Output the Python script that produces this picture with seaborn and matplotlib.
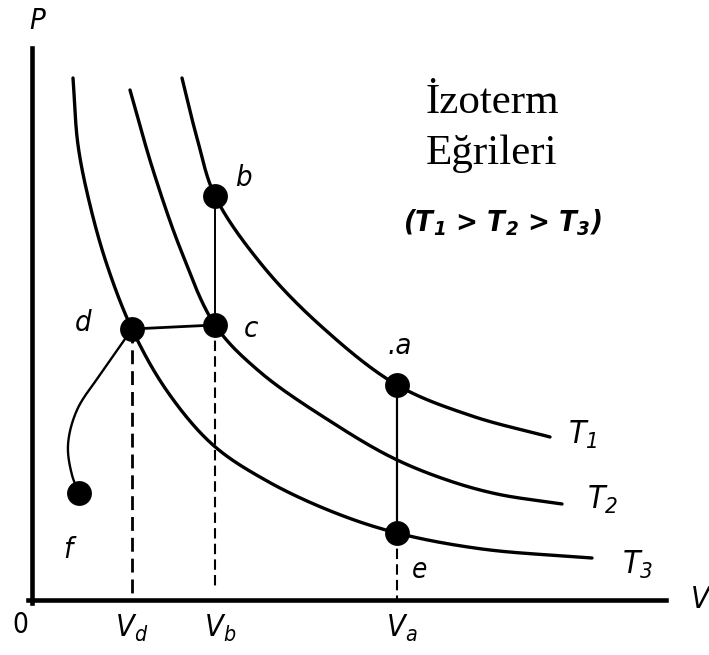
import numpy as np
import pandas as pd
import matplotlib
matplotlib.use("Agg")
import matplotlib.pyplot as plt
import seaborn as sns

# Isotherms on the P-V plane (V along x, P along y), read as (V, P) pairs
t1_v = [150, 165, 183, 230, 290, 365, 440, 518]
t1_p = [522, 462, 404, 335, 273, 215, 184, 163]

t2_v = [98, 121, 150, 183, 228, 301, 361, 415, 465, 530]
t2_p = [510, 430, 347, 275, 228, 177, 142, 120, 106, 96]

t3_v = [41, 46, 58, 75, 100, 135, 181, 235, 301, 365, 450, 560]
t3_p = [522, 455, 395, 335, 271, 209, 155, 119, 88, 67, 51, 42]

# Condensation path from d to f
df_v = [100, 70, 45, 36, 40, 47]
df_p = [271, 228, 190, 155, 125, 107]

# Characteristic volumes
v_d, v_b, v_a = 100, 183, 365

# State points
state_names = ["a", "b", "c", "d", "e", "f"]
state_v = [365, 183, 183, 100, 365, 47]
state_p = [215, 404, 275, 271, 67, 107]

iso_labels = ["T$\\mathdefault{_1}$", "T$\\mathdefault{_2}$", "T$\\mathdefault{_3}$"]


def smooth(xs, ys, n=30, alpha=0.5):
    """Centripetal Catmull-Rom curve through the given nodes (rendering only)."""
    pts = np.column_stack([xs, ys]).astype(float)
    pts = np.vstack([2 * pts[0] - pts[1], pts, 2 * pts[-1] - pts[-2]])
    out = []
    for i in range(1, len(pts) - 2):
        p0, p1, p2, p3 = pts[i - 1], pts[i], pts[i + 1], pts[i + 2]
        t0 = 0.0
        t1 = t0 + np.linalg.norm(p1 - p0) ** alpha
        t2 = t1 + np.linalg.norm(p2 - p1) ** alpha
        t3 = t2 + np.linalg.norm(p3 - p2) ** alpha
        t = np.linspace(t1, t2, n, endpoint=False)[:, None]
        a1 = (t1 - t) / (t1 - t0) * p0 + (t - t0) / (t1 - t0) * p1
        a2 = (t2 - t) / (t2 - t1) * p1 + (t - t1) / (t2 - t1) * p2
        a3 = (t3 - t) / (t3 - t2) * p2 + (t - t2) / (t3 - t2) * p3
        b1 = (t2 - t) / (t2 - t0) * a1 + (t - t0) / (t2 - t0) * a2
        b2 = (t3 - t) / (t3 - t1) * a2 + (t - t1) / (t3 - t1) * a3
        c = (t2 - t) / (t2 - t1) * b1 + (t - t1) / (t2 - t1) * b2
        out.append(c)
    out.append(pts[-2][None, :])
    arr = np.vstack(out)
    return arr[:, 0], arr[:, 1]


sns.set_theme(style="white")
plt.rcParams["font.family"] = ["DejaVu Sans"]

fig = plt.figure(figsize=(7.09, 6.55), dpi=100)
ax = fig.add_axes([0, 0, 1, 1])
ax.set_xlim(-32, 677)
ax.set_ylim(-55, 600)

ink = "black"

# Isotherm curves
for vs, ps in [(t1_v, t1_p), (t2_v, t2_p), (t3_v, t3_p)]:
    sx, sy = smooth(vs, ps)
    sns.lineplot(x=sx, y=sy, sort=False, estimator=None, color=ink, lw=2.4, ax=ax)

# d -> f branch
sx, sy = smooth(df_v, df_p)
sns.lineplot(x=sx, y=sy, sort=False, estimator=None, color=ink, lw=1.7, ax=ax)

pts = pd.DataFrame({"name": state_names, "V": state_v, "P": state_p}).set_index("name")

# d -- c horizontal segment
ax.plot([pts.loc["d", "V"], pts.loc["c", "V"]], [pts.loc["d", "P"], pts.loc["c", "P"]],
        color=ink, lw=2.0)
# b -- c and a -- e vertical segments
ax.plot([v_b, v_b], [pts.loc["b", "P"], pts.loc["c", "P"]], color=ink, lw=1.4)
ax.plot([v_a, v_a], [pts.loc["a", "P"], pts.loc["e", "P"]], color=ink, lw=1.6)

# Dashed projections to the V axis
dash = (0, (5, 2.5))
ax.plot([v_d, v_d], [pts.loc["d", "P"], 0], color=ink, lw=2.0, ls=dash)
ax.plot([v_b, v_b], [pts.loc["c", "P"], 10], color=ink, lw=1.5, ls=dash)
ax.plot([v_a, v_a], [pts.loc["e", "P"], 0], color=ink, lw=1.5, ls=dash)

# State points
sns.scatterplot(data=pts, x="V", y="P", s=320, color=ink, edgecolor=ink,
                linewidth=0, ax=ax, zorder=5)

# Axes drawn as thick spines through the origin
for side in ["top", "right"]:
    ax.spines[side].set_visible(False)
for side in ["left", "bottom"]:
    ax.spines[side].set_position(("data", 0))
    ax.spines[side].set_linewidth(3.3)
    ax.spines[side].set_color(ink)
ax.spines["left"].set_bounds(-3, 552)
ax.spines["bottom"].set_bounds(-4, 634)
ax.set_xticks([])
ax.set_yticks([])
ax.set_xlabel("")
ax.set_ylabel("")

hand = dict(family=["DejaVu Sans"], style="italic", stretch="condensed",
            color=ink, ha="center", va="center")

ax.text(5, 579, "P", fontsize=21, **hand)
ax.text(668, 0, "V", fontsize=22, **hand)
ax.text(-12, -25, "0", fontsize=20, family=["DejaVu Sans"], stretch="condensed",
        color=ink, ha="center", va="center")
ax.text(v_d, -28, "V$\\mathdefault{_d}$", fontsize=22, **hand)
ax.text(v_b + 5, -28, "V$\\mathdefault{_b}$", fontsize=22, **hand)
ax.text(v_a + 5, -28, "V$\\mathdefault{_a}$", fontsize=22, **hand)

# Point letters
ax.text(211, 422, "b", fontsize=21, **hand)
ax.text(219, 271, "c", fontsize=21, **hand)
ax.text(51, 277, "d", fontsize=21, **hand)
ax.text(368, 254, ".a", fontsize=21, **hand)
ax.text(388, 30, "e", fontsize=20, **hand)
ax.text(36, 50, "f", fontsize=21, **hand)

# Isotherm names
for (xv, yp), lab in zip([(551, 165), (571, 100), (606, 35)], iso_labels):
    ax.text(xv, yp, lab, fontsize=23, **hand)

# Title block
ax.text(460, 487, "İzoterm", fontsize=31, family=["Liberation Serif"],
        color=ink, ha="center", va="baseline")
ax.text(460, 436, "Eğrileri", fontsize=31, family=["Liberation Serif"],
        color=ink, ha="center", va="baseline")
ax.text(471, 377, "(T$\\mathdefault{_1}$ > T$\\mathdefault{_2}$ > T$\\mathdefault{_3}$)",
        fontsize=21, family=["DejaVu Sans"], style="italic", stretch="condensed",
        weight="bold", color=ink, ha="center", va="center")

fig.savefig("out.png", dpi=100)
